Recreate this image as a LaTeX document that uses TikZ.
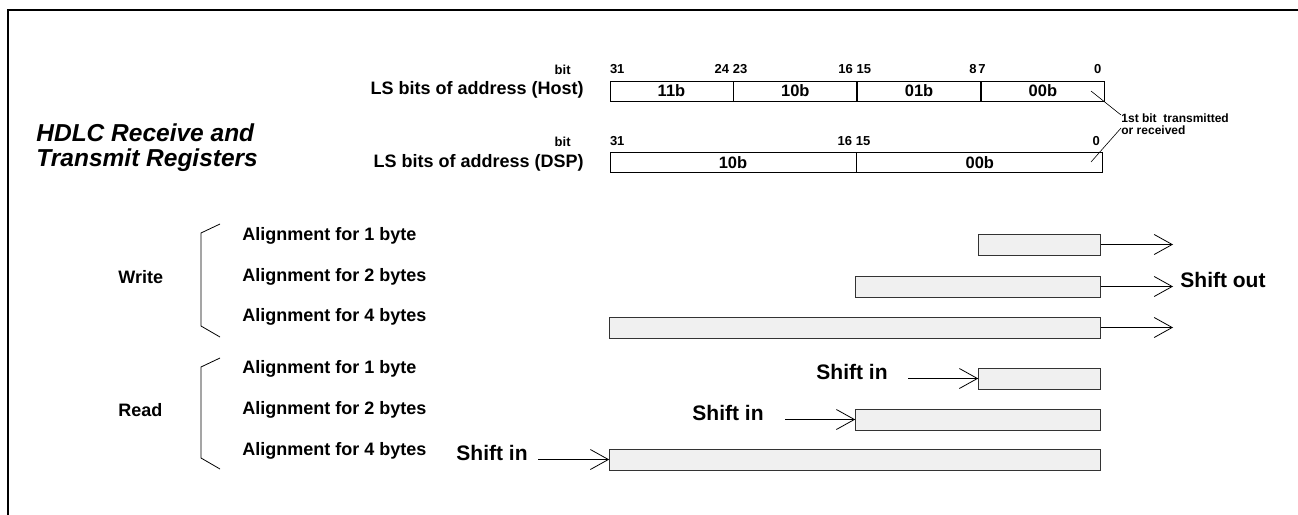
\documentclass[tikz,border=0pt]{standalone}
\usepackage{fontspec}
\setmainfont{Liberation Sans}
\usetikzlibrary{arrows.meta,positioning}

\begin{document}
\begin{tikzpicture}[x=1pt, y=-1pt, line width=0.8pt,
		lbl/.style={font=\fontsize{18}{20}\selectfont\bfseries, inner sep=0pt},
		shf/.style={font=\fontsize{21}{24}\selectfont\bfseries, inner sep=0pt},
		ttl/.style={font=\fontsize{24.5}{24}\selectfont\bfseries\itshape, inner sep=0pt, anchor=base west},
		num/.style={font=\fontsize{13}{14}\selectfont\bfseries, inner sep=0pt},
		lo/.style={num, anchor=base west, yshift=7pt, xshift=-1pt},
		hi/.style={num, anchor=base east, yshift=7pt, xshift=-4pt},
		cell/.style={draw, fill=white, minimum width=123pt, minimum height=20pt, inner sep=0pt, font=\fontsize{16.5}{18}\selectfont\bfseries},
		bar/.style={draw=black!80, fill=gray!12, minimum height=21pt, inner sep=0pt, anchor=east},
		arr/.style={-{Straight Barb[length=18pt,width=20pt]}}]
		\useasboundingbox (0,0) rectangle (1298,514);
		\draw[line width=2.5pt] (8,520) -- (8,10) -- (1300,10);

		\node[ttl] (t1) at (36,141) {HDLC Receive and};
		\node[ttl] (t2) at (36,166) {Transmit Registers};

		% host register
		\node[lbl, anchor=east] (hlbl) at (584,90) {LS bits of address (Host)};
		\node[num, anchor=base east] (hbit) at (571,74) {bit};
		\node[cell] (h1) at (671.5,91) {11b};
		\node[cell] (h2) [right=0pt of h1] {10b};
		\node[cell] (h3) [right=0pt of h2] {01b};
		\node[cell] (h4) [right=0pt of h3] {00b};
		\node[lo] at (h1.north west) [xshift=1pt] {31};
		\node[hi] at (h1.north east) {24};
		\node[lo] at (h2.north west) {23};
		\node[hi] at (h2.north east) {16};
		\node[lo] at (h3.north west) {15};
		\node[hi] at (h3.north east) {8};
		\node[lo] at (h4.north west) [xshift=-2pt] {7};
		\node[hi] at (h4.north east) [xshift=1pt] {0};

		% dsp register
		\node[lbl, anchor=east] (dlbl) at (584,163) {LS bits of address (DSP)};
		\node[num, anchor=base east] (dbit) at (571,146) {bit};
		\node[cell, minimum width=246pt] (d1) at (733,162.5) {10b};
		\node[cell, minimum width=246pt] (d2) [right=0pt of d1] {00b};
		\node[lo] at (d1.north west) [xshift=1pt] {31};
		\node[hi] at (d1.north east) {16};
		\node[lo] at (d2.north west) {15};
		\node[hi] at (d2.north east) [xshift=1pt] {0};

		\node[font=\fontsize{12}{12.5}\selectfont\bfseries, inner sep=0pt, align=left, anchor=north west] (note) at (1121,113) {1st bit\ \ transmitted\\or received};
		\coordinate (hc) at (1091,91);
		\coordinate (dc) at (1091,162);
		\draw[line width=0.6pt] (hc) -- ([yshift=-2pt]note.north west);
		\draw[line width=0.6pt] (dc) -- ([yshift=-4pt]note.west);

		% write
		\node[lbl, anchor=west] (wr) at (118,277) {Write};
		\node[lbl, anchor=west] (wa1) at (242,236) {Alignment for 1 byte};
		\node[lbl, anchor=west] (wa2) at (242,277) {Alignment for 2 bytes};
		\node[lbl, anchor=west] (wa4) at (242,317) {Alignment for 4 bytes};
		\draw (220,224) -- (201,233) -- (201,326) -- (220,337);
		\node[bar, minimum width=122pt] (w1) at (1101,244.5) {};
		\node[bar, minimum width=245pt] (w2) at (1101,286.5) {};
		\node[bar, minimum width=491pt] (w4) at (1101,327.5) {};
		\coordinate (o1) at (1173,244.5);
		\coordinate (o2) at (1173,286.5);
		\coordinate (o4) at (1173,327.5);
		\draw[arr] (w1) -- (o1);
		\draw[arr] (w2) -- (o2);
		\draw[arr] (w4) -- (o4);
		\node[shf, anchor=west] (sout) at (1180,280) {Shift out};

		% read
		\node[lbl, anchor=west] (rd) at (118,410) {Read};
		\node[lbl, anchor=west] (ra1) at (242,369) {Alignment for 1 byte};
		\node[lbl, anchor=west] (ra2) at (242,410) {Alignment for 2 bytes};
		\node[lbl, anchor=west] (ra4) at (242,451) {Alignment for 4 bytes};
		\draw (220,358) -- (201,367) -- (201,458) -- (220,469);
		\node[bar, minimum width=122pt] (r1) at (1101,378.5) {};
		\node[bar, minimum width=245pt] (r2) at (1101,419.5) {};
		\node[bar, minimum width=491pt] (r4) at (1101,459.5) {};
		\node[shf, anchor=east] (in1) at (888,372) {Shift in};
		\node[shf, anchor=east] (in2) at (764,413) {Shift in};
		\node[shf, anchor=east] (in4) at (528,453) {Shift in};
		\coordinate (i1) at (908,378.5);
		\coordinate (i2) at (785,419.5);
		\coordinate (i4) at (538,459.5);
		\draw[arr] (i1) -- (r1);
		\draw[arr] (i2) -- (r2);
		\draw[arr] (i4) -- (r4);
	\end{tikzpicture}
\end{document}
